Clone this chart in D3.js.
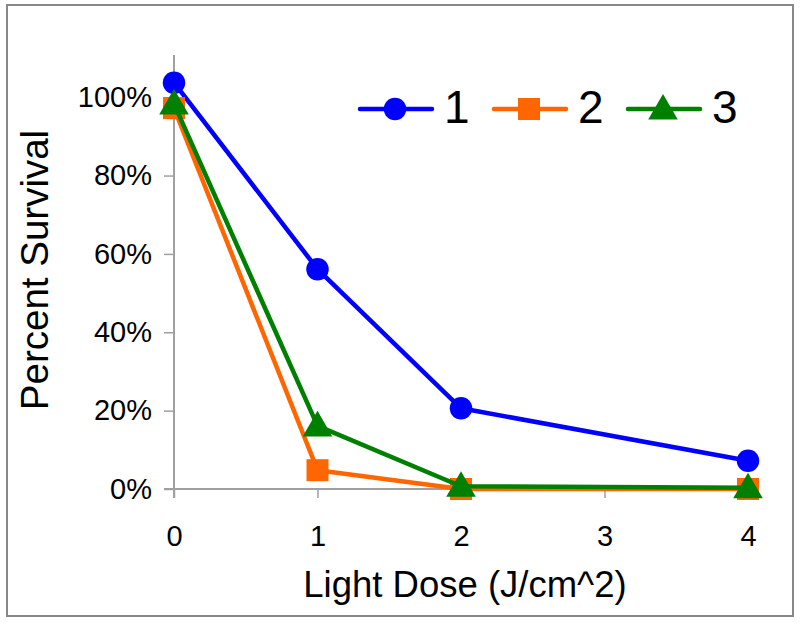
<!DOCTYPE html>
<html><head><meta charset="utf-8">
<script src="https://cdn.jsdelivr.net/npm/d3@7"></script>
<style>body{margin:0;background:#fff}svg{display:block}text{font-family:"Liberation Sans",Arial,sans-serif;fill:#000}</style>
</head><body>
<script>
const doses = [0, 1, 2, 4];
const xTicks = [0, 1, 2, 3, 4];
const yTicks = [0, 0.2, 0.4, 0.6, 0.8, 1.0];
const seriesNames = ["1", "2", "3"];
const series1 = [1.037, 0.561, 0.206, 0.072];
const series2 = [0.972, 0.048, 0.0, 0.0];
const series3 = [0.983, 0.161, 0.007, 0.003];
const colors = ["#0000FF", "#FF6600", "#008000"];
const shapes = [d3.symbolCircle, d3.symbolSquare, d3.symbolTriangle];
const xLabel = "Light Dose (J/cm^2)";
const yLabel = "Percent Survival";

const W = 800, H = 625;
const svg = d3.select("body").append("svg").attr("width", W).attr("height", H);

svg.append("rect").attr("x", 7).attr("y", 5).attr("width", 786).attr("height", 611)
  .attr("fill", "#fff").attr("stroke", "#888").attr("stroke-width", 2);

const x = d3.scaleLinear().domain([0, 4]).range([174, 748]);
const y = d3.scaleLinear().domain([0, 1.1]).range([489, 58]);

const FONT = "Liberation Sans, Arial, sans-serif";
// axes
const yAxis = d3.axisLeft(y).tickValues(yTicks).tickSize(10).tickFormat(d3.format(".0%")).tickPadding(12);
const gy = svg.append("g").attr("transform", `translate(${x(0)},0)`).call(yAxis);
gy.select(".domain").attr("stroke", "#a0a0a0").attr("stroke-width", 2).attr("d", `M0,${y(1.1)-3}V${y(0)+9}`);
gy.selectAll(".tick line").attr("stroke", "#a0a0a0").attr("stroke-width", 1.5);
gy.selectAll(".tick text").attr("font-size", 29).attr("font-family", FONT).attr("fill", "#000");

const xAxis = d3.axisBottom(x).tickValues(xTicks).tickSize(9).tickFormat(d3.format("d")).tickPadding(27);
const gx = svg.append("g").attr("transform", `translate(0,${y(0)})`).call(xAxis);
gx.select(".domain").attr("stroke", "#a0a0a0").attr("stroke-width", 2).attr("d", `M${x(0)-10},0H${x(4)}`);
gx.selectAll(".tick line").attr("stroke", "#a0a0a0").attr("stroke-width", 1.5);
gx.selectAll(".tick text").attr("font-size", 29).attr("font-family", FONT).attr("fill", "#000");

// axis titles
svg.append("text").attr("x", 465).attr("y", 597).attr("text-anchor", "middle")
  .attr("font-size", 36.5).text(xLabel);
svg.append("text").attr("transform", "translate(48,270) rotate(-90)").attr("text-anchor", "middle")
  .attr("font-size", 38.5).text(yLabel);

// series
const allSeries = [series1, series2, series3];
const sizes = [22.5*22.5*Math.PI/4, 22*22, 27*27*0.52];
const line = d3.line().x((d, i) => x(doses[i])).y(d => y(d));
allSeries.forEach((vals, s) => {
  const g = svg.append("g");
  g.append("path").datum(vals).attr("d", line).attr("fill", "none")
    .attr("stroke", colors[s]).attr("stroke-width", 4.5).attr("stroke-linejoin", "round");
  g.selectAll("path.m").data(vals).join("path").attr("class", "m")
    .attr("transform", (d, i) => `translate(${x(doses[i])},${y(d) + (s === 2 ? 2 : 0)})`)
    .attr("d", d3.symbol().type(shapes[s]).size(sizes[s]))
    .attr("fill", colors[s]);
});

// legend
const legX = [360, 494, 628];
const legY = 109;
seriesNames.forEach((n, s) => {
  const g = svg.append("g");
  g.append("line").attr("x1", legX[s]).attr("x2", legX[s] + 72).attr("y1", legY).attr("y2", legY)
    .attr("stroke", colors[s]).attr("stroke-width", 4.5).attr("stroke-linecap", "round");
  g.append("path").attr("transform", `translate(${legX[s] + 35},${legY + (s === 2 ? 2 : 0)})`)
    .attr("d", d3.symbol().type(shapes[s]).size(sizes[s])).attr("fill", colors[s]);
  g.append("text").attr("x", legX[s] + 84).attr("y", 123).attr("font-size", 46).text(n);
});
</script>
</body></html>
